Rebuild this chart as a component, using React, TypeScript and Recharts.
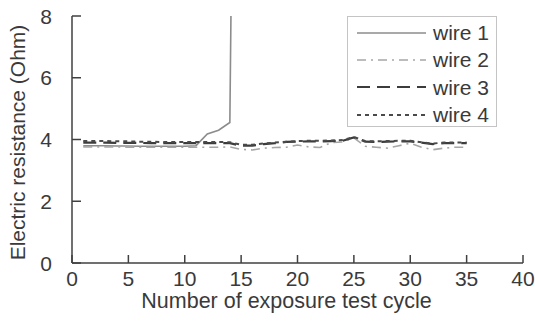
import React from "react";

import { Legend, Line, LineChart, XAxis, YAxis } from "recharts";


const cycles = [
  1, 2, 3, 4, 5, 6, 7, 8, 9, 10, 11, 12, 13, 14, 15, 16, 17, 18,
  19, 20, 21, 22, 23, 24, 25, 26, 27, 28, 29, 30, 31, 32, 33, 34, 35
];

// wire 1 breaks after cycle 14, the last value runs off the top of the plot
const wire1 = [
  3.8, 3.8, 3.8, 3.79, 3.79, 3.78, 3.78, 3.78, 3.78, 3.78, 3.8, 4.18, 4.3, 4.55, 40
];
const wire2 = [
  3.76, 3.76, 3.76, 3.76, 3.75, 3.75, 3.75, 3.75, 3.75, 3.75, 3.75, 3.75, 3.75, 3.76, 3.68,
  3.66, 3.72, 3.74, 3.75, 3.82, 3.76, 3.74, 3.9, 3.92, 4.05, 3.78, 3.75, 3.72, 3.8, 3.88,
  3.75, 3.67, 3.72, 3.75, 3.75
];
const wire3 = [
  3.9, 3.9, 3.9, 3.89, 3.89, 3.89, 3.88, 3.88, 3.88, 3.88, 3.88, 3.88, 3.88, 3.88, 3.8,
  3.8, 3.85, 3.88, 3.92, 3.93, 3.94, 3.94, 3.95, 3.96, 4.07, 3.93, 3.92, 3.93, 3.94, 3.94,
  3.9, 3.85, 3.88, 3.88, 3.88
];
const wire4 = [
  3.95, 3.95, 3.95, 3.94, 3.94, 3.93, 3.93, 3.92, 3.92, 3.92, 3.92, 3.92, 3.92, 3.91, 3.83,
  3.83, 3.87, 3.9, 3.93, 3.95, 3.96, 3.96, 3.97, 3.98, 4.08, 3.95, 3.94, 3.95, 3.96, 3.96,
  3.91, 3.87, 3.9, 3.9, 3.9
];

const xTicks = [0, 5, 10, 15, 20, 25, 30, 35, 40];
const yTicks = [0, 2, 4, 6, 8];

const seriesNames = ["wire 1", "wire 2", "wire 3", "wire 4"];
const seriesKeys = ["w1", "w2", "w3", "w4"];
const seriesColors = ["#8c8c8c", "#a6a6a6", "#3c3c3c", "#4a4a4a"];
const seriesDash = ["", "9 5 2 5", "13 7", "4 4"];
const seriesWidth = [1.6, 1.6, 2.2, 2];

const data = cycles.map((c, i) => ({
  cycle: c,
  w1: wire1[i],
  w2: wire2[i],
  w3: wire3[i],
  w4: wire4[i]
}));

const FONT = "'Liberation Sans', Arial, sans-serif";
const TEXT = "#3a3a3a";
const AXIS = "#404040";
const X_MARGIN = 8;
const Y_MARGIN = 20;

const XTick = (props: any) => {
  const { x, y, payload } = props;
  const axisY = y - X_MARGIN;
  return (
    <g>
      <line x1={x} x2={x} y1={axisY} y2={axisY - 8} stroke={AXIS} strokeWidth={1.5} />
      <text x={x} y={y} dy="0.72em" textAnchor="middle" fontSize={21} fill={TEXT} fontFamily={FONT}>
        {payload.value}
      </text>
    </g>
  );
};

const YTick = (props: any) => {
  const { x, y, payload } = props;
  const axisX = x + Y_MARGIN;
  return (
    <g>
      <line x1={axisX} x2={axisX + 9} y1={y} y2={y} stroke={AXIS} strokeWidth={1.5} />
      <text x={x} y={y} dy="0.36em" textAnchor="end" fontSize={21} fill={TEXT} fontFamily={FONT}>
        {payload.value}
      </text>
    </g>
  );
};

const LegendBox = () => (
  <div
    style={{
      width: 150,
      height: 111,
      border: "1px solid #c4c4c4",
      background: "#fff",
      paddingTop: 2,
      boxSizing: "border-box",
      fontFamily: FONT
    }}
  >
    {seriesNames.map((name, i) => (
      <div key={name} style={{ display: "flex", alignItems: "center", height: 27.3 }}>
        <svg width={76} height={10} style={{ marginLeft: 9 }}>
          <line
            x1={0}
            x2={69}
            y1={5}
            y2={5}
            stroke={seriesColors[i]}
            strokeWidth={seriesWidth[i]}
            strokeDasharray={seriesDash[i]}
          />
        </svg>
        <span style={{ fontSize: 21, color: TEXT, lineHeight: "21px" }}>{name}</span>
      </div>
    ))}
  </div>
);

const App: React.FC = () => {
  return (
    <div style={{ position: "absolute", left: 0, top: 0, background: "#fff" }}>
      <LineChart width={535} height={336} data={data} margin={{ top: 16, right: 12, bottom: 0, left: 0 }}>
        <XAxis
          dataKey="cycle"
          type="number"
          domain={[0, 40]}
          ticks={xTicks}
          height={73}
          tickSize={0}
          tickMargin={X_MARGIN}
          tick={XTick}
          stroke={AXIS}
          strokeWidth={1.5}
          label={(p: any) => {
            const vb = p.viewBox;
            return (
              <text
                x={vb.x + vb.width / 2 - 11}
                y={vb.y + 45}
                textAnchor="middle"
                fontSize={21.5}
                fill={TEXT}
                fontFamily={FONT}
              >
                Number of exposure test cycle
              </text>
            );
          }}
        />
        <YAxis
          domain={[0, 8]}
          ticks={yTicks}
          allowDataOverflow
          width={72}
          tickSize={0}
          tickMargin={Y_MARGIN}
          tick={YTick}
          stroke={AXIS}
          strokeWidth={1.5}
          label={(p: any) => {
            const vb = p.viewBox;
            const cx = vb.x + 17;
            const cy = vb.y + vb.height / 2 + 3;
            return (
              <text
                x={cx}
                y={cy}
                transform={`rotate(-90 ${cx} ${cy})`}
                textAnchor="middle"
                dominantBaseline="central"
                fontSize={21}
                fill={TEXT}
                fontFamily={FONT}
              >
                Electric resistance (Ohm)
              </text>
            );
          }}
        />
        {seriesKeys.map((k, i) => (
          <Line
            key={k}
            dataKey={k}
            name={seriesNames[i]}
            type="linear"
            stroke={seriesColors[i]}
            strokeWidth={seriesWidth[i]}
            strokeDasharray={seriesDash[i] || undefined}
            dot={false}
            activeDot={false}
            isAnimationActive={false}
          />
        ))}
        <Legend
          layout="vertical"
          align="center"
          verticalAlign="middle"
          wrapperStyle={{ left: 347, top: 16, width: "auto" }}
          content={LegendBox}
        />
      </LineChart>
    </div>
  );
};

export default App;
